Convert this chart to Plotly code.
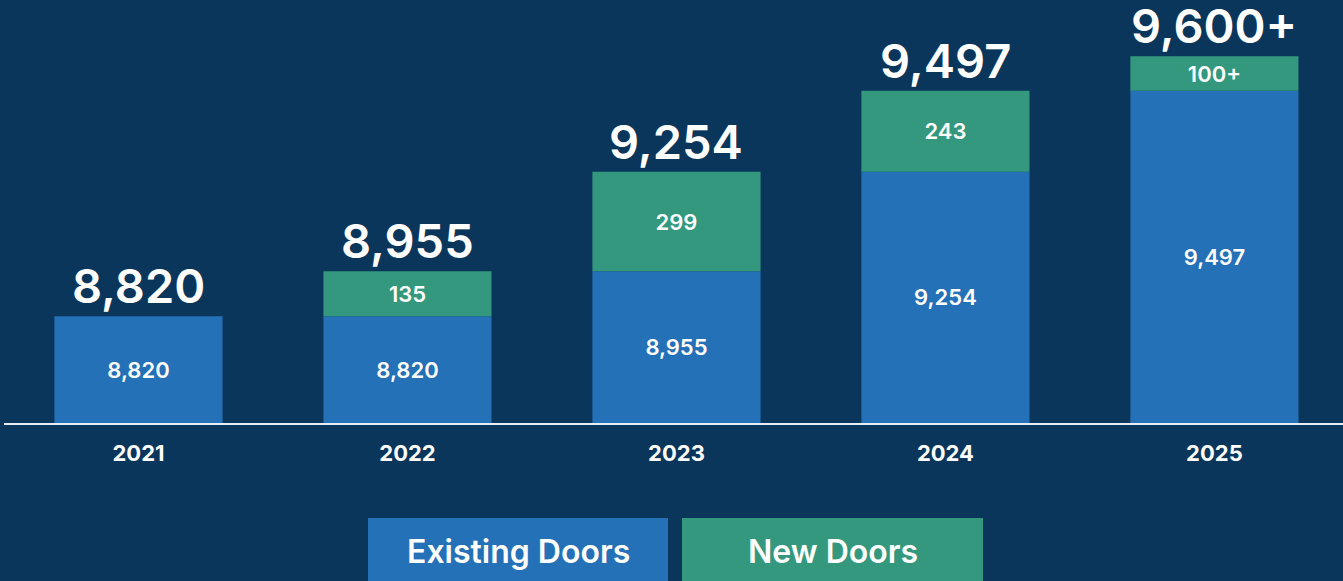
import plotly.graph_objects as go

years = ["2021", "2022", "2023", "2024", "2025"]
existing_doors = [8820, 8820, 8955, 9254, 9497]
new_doors = [0, 135, 299, 243, 103]
existing_labels = ["8,820", "8,820", "8,955", "9,254", "9,497"]
new_labels = ["", "135", "299", "243", "100+"]
total_labels = ["8,820", "8,955", "9,254", "9,497", "9,600+"]

BG = "#0b365b"
BLUE = "#2471b7"
GREEN = "#33987d"
FONT = "Inter"
Y_FLOOR = 8500

fig = go.Figure()

fig.add_trace(go.Bar(
    x=years, y=[v - Y_FLOOR for v in existing_doors], base=Y_FLOOR,
    name="Existing Doors", marker=dict(color=BLUE, line=dict(width=0)),
    text=existing_labels, textposition="inside", insidetextanchor="middle",
    textfont=dict(family=FONT, size=22, color="white", weight=600),
    constraintext="none", textangle=0, hoverinfo="skip",
))
fig.add_trace(go.Bar(
    x=years, y=new_doors, base=existing_doors,
    name="New Doors", marker=dict(color=GREEN, line=dict(width=0)),
    text=new_labels, textposition="inside", insidetextanchor="middle",
    textfont=dict(family=FONT, size=22, color="white", weight=600),
    constraintext="none", textangle=0, hoverinfo="skip",
))

# big totals above each bar
for i, lab in enumerate(total_labels):
    fig.add_annotation(x=i, y=existing_doors[i] + new_doors[i], text=lab,
                       xref="x", yref="y", showarrow=False,
                       xanchor="center", yanchor="bottom", yshift=0,
                       font=dict(family=FONT, size=47, color="white", weight=600))

# legend drawn as two boxes under the chart
W = 1339.0
H = 423.0
legend = [("Existing Doors", BLUE, 368, 668), ("New Doors", GREEN, 682, 983)]
for label, col, x0, x1 in legend:
    fig.add_shape(type="rect", xref="paper", yref="paper",
                  x0=(x0 - 4) / W, x1=(x1 - 4) / W,
                  y0=(H - 518) / H, y1=(H - 600) / H,
                  fillcolor=col, line=dict(width=0))
    fig.add_annotation(xref="paper", yref="paper",
                       x=((x0 + x1) / 2 - 4) / W, y=(H - 551) / H,
                       xanchor="center", yanchor="middle",
                       text=label, showarrow=False,
                       font=dict(family=FONT, size=32, color="white", weight=600))

fig.update_layout(
    width=1343, height=581,
    paper_bgcolor=BG, plot_bgcolor=BG,
    barmode="overlay", bargap=0.375,
    showlegend=False,
    margin=dict(l=4, r=0, t=0, b=158),
    xaxis=dict(type="category", range=[-0.5, 4.478], showgrid=False, showline=True,
               linecolor="#e8eef4", linewidth=2, ticks="",
               ticklabelstandoff=10,
               tickfont=dict(family=FONT, size=22, color="white", weight=700)),
    yaxis=dict(range=[Y_FLOOR, 9769], visible=False, showgrid=False),
)

fig.write_html("out.html", config={"displayModeBar": False},
               post_script="document.body.style.margin='0';")
